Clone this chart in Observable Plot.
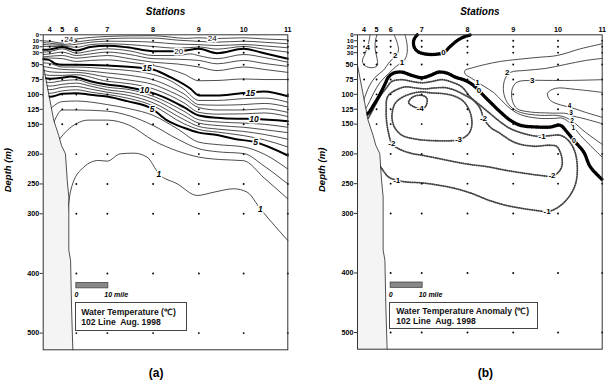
<!DOCTYPE html>
<html><head><meta charset="utf-8">
<script src="https://cdn.jsdelivr.net/npm/d3@7"></script>
<script src="https://cdn.jsdelivr.net/npm/@observablehq/plot@0.6"></script>
<style>
html,body{margin:0;padding:0;background:#fff;}
body{width:608px;height:385px;overflow:hidden;position:relative;font-family:"Liberation Sans",Arial,sans-serif;}
.panel{position:absolute;top:0;}
.legend{position:absolute;box-sizing:border-box;border:1px solid #444;background:#fff;font-weight:bold;font-size:8.6px;line-height:10px;color:#111;padding:4.5px 0 0 5px;white-space:nowrap;}
</style></head><body>
<div id="pa" class="panel" style="left:0px"></div>
<div id="pb" class="panel" style="left:308px"></div>
<div class="legend" style="left:75.3px;top:301.7px;width:111.4px;height:29px;">Water Temperature (℃)<br>102 Line&nbsp; Aug. 1998</div>
<div class="legend" style="left:389.3px;top:301.7px;width:149px;height:27.5px;padding-left:6px;line-height:9.5px;">Water Temperature Anomaly (℃)<br>102 Line&nbsp; Aug. 1998</div>
<script>
// ---------- data ----------
const stations = [4,5,6,7,8,9,10,11];
const stationMiles = [0,3.9,8.3,18,32.3,46.6,60.6,74.4];
const depthTicksTop = [0,10,20,30];
const depthTicks = [50,75,100,125,150,200,250,300,400,500];
const sampleDepths = [10,20,30,50,75,100,125,150,200,250,300,400,500];
const deepestSample = [75,150,500,500,500,500,500,500];
const seafloor = [[-2.06,51],[1.25,143.6],[2.8,168.8],[3.65,185.5],[4.9,199.5],[5.45,244.2],[5.95,272.2],[5.95,361.5],[6.5,378.3],[6.8,456.5],[7.2,528]];

// (a) water temperature isotherms: [miles, depth]
const tempIsotherms = [
 {v:24,pts:[[-2.06,10],[0,11],[3.9,14],[6,9],[8.3,7],[12.7,4.5],[18,2.8],[25,1.8],[32.3,1.5],[38,4],[42.5,6],[46.6,5],[52.3,6.2],[60.6,5],[67,7],[74.4,8.4]]},
 {v:23,pts:[[-2.06,13],[0,14],[3.9,16],[8.3,12],[12.7,9],[18,6.7],[25,5.5],[32.3,5.5],[40,9],[46.6,11],[52.3,12.3],[60.6,10.7],[67,12.5],[74.4,15]]},
 {v:22,pts:[[-2.06,16],[0,17],[3.9,17.5],[8.3,16],[12.7,12.5],[18,10.7],[25,11],[32.3,12.4],[40,15.5],[46.6,16.5],[52.3,18],[60.6,16.3],[67,18.5],[74.4,21.8]]},
 {v:21,pts:[[-2.06,19],[0,20],[3.9,19],[8.3,21],[12.7,16.5],[18,15],[25,16.5],[32.3,19.6],[40,22.5],[46.6,20.5],[52.3,24],[60.6,19.6],[67,24],[74.4,29]]},
 {v:20,pts:[[-2.06,25],[0,24.6],[3.9,20.5],[8.3,26.3],[12.7,20.5],[18,18.5],[24.2,21],[32.3,27.4],[40.3,27.4],[46.6,23.5],[52.3,30.8],[60.6,23.5],[65.8,29.1],[74.4,40.3]]},
 {v:19,pts:[[-2.06,29],[0,28],[3.9,23.5],[8.3,30.8],[12.7,27],[18,23.5],[25,27],[32.3,34.7],[40,34.7],[44,32],[46.6,35],[52.3,40],[60.6,33],[67,38],[74.4,46]]},
 {v:18,pts:[[-2.06,33],[0,32],[3.9,29],[8.3,34.7],[12.7,32],[18,29],[25,33],[32.3,40],[40,41],[46.6,43],[52.3,48.6],[60.6,43],[67,48],[74.4,53]]},
 {v:17,pts:[[-2.06,37],[0,36],[3.9,34.7],[8.3,39.2],[12.7,37],[18,34.7],[25,40],[32.3,46],[40,49],[46.6,54],[52.3,60],[60.6,54],[67,58],[74.4,63]]},
 {v:16,pts:[[-2.06,39],[0,39],[3.9,40],[8.3,44.7],[12.7,43],[18,42],[25,46],[32.3,51.5],[37.7,58],[42,66],[46.6,77],[52.3,76.6],[60.6,74],[67,75],[74.4,75]]},
 {v:15,pts:[[-2.06,41],[-0.3,42],[1.8,48.6],[3.9,50.3],[8.3,50.3],[17.9,51.5],[28.3,55.3],[32.5,58.7],[37.7,71.1],[44,90.5],[46.6,101.7],[52.3,101.7],[58.6,98.9],[66.9,95],[74.4,102.9]]},
 {v:14,pts:[[-2.06,47],[0,48],[3.9,54],[8.3,54],[18,57],[25,60],[32.3,66.5],[37.7,77],[41.9,91],[46.6,110],[52.3,110],[60.6,107],[67,106],[74.4,113]]},
 {v:13,pts:[[-2.06,53],[0,55],[3.9,58],[8.3,59],[18,64],[25,68],[32.3,75.4],[37.7,87],[41.9,99],[46.6,117],[52.3,118],[60.6,117],[67,115],[74.4,121]]},
 {v:12,pts:[[-2.06,59],[0,62],[3.9,63],[8.3,63],[18,71],[25,76],[32.3,83.3],[37.7,95],[41.9,106],[46.6,122],[52.3,126],[60.6,126],[67,124],[74.4,130]]},
 {v:11,pts:[[-2.06,66],[0,68],[3.9,68],[8.3,67],[18,78],[25,82],[32.3,90.5],[37.7,102],[41.9,114],[46.6,130],[52.3,133],[60.6,132.5],[67,131],[74.4,137]]},
 {v:10,pts:[[-2.06,72],[0,73.8],[3.9,72],[6.5,69.9],[8.3,71],[12.7,77.8],[17.9,83.3],[23.1,86.7],[29.4,93.4],[32.3,97.8],[35.6,104.5],[41.9,121.3],[46.6,135.3],[52.3,139.2],[58.6,140.8],[63.8,141],[74.4,144.8]]},
 {v:9,pts:[[-2.06,78],[0,80],[3.9,77],[8.3,75.4],[12.7,82],[18,87.8],[25,92],[32.3,103],[41.9,128],[46.6,142.5],[52.3,146],[60.6,148],[67,150],[74.4,155]]},
 {v:8,pts:[[-2.06,84],[0,86],[3.9,83],[8.3,81],[12.7,86],[18,92.2],[25,97],[32.3,108],[41.9,135],[46.6,148],[52.3,152],[60.6,155],[67,159],[74.4,164]]},
 {v:7,pts:[[-2.06,90],[0,92],[3.9,88],[8.3,86.7],[12.7,91],[18,96.2],[25,102],[32.3,114],[41.9,142],[46.6,153.7],[52.3,158],[60.6,162],[67,167],[74.4,175]]},
 {v:6,pts:[[-2.06,96],[0,98],[3.9,94],[8.3,92.2],[12.7,96],[18,100],[25,107],[32.3,119],[41.9,149],[46.6,158.7],[52.3,163],[60.6,169],[67,176],[74.4,188]]},
 {v:5,pts:[[-2.06,102],[0,104],[3.9,99],[8.3,97.8],[12.7,100.6],[17.9,103.4],[24.2,111.2],[32,124],[36.7,143.6],[41.9,155.9],[46.6,164],[52.3,168],[57.5,174.3],[64.3,180],[74.4,202.3]]},
 {v:4,pts:[[0,125],[3.9,112],[8.3,111],[18,117],[25,124],[32.3,135],[40,158],[46.6,180],[52.3,184],[60.6,188],[67,200],[74.4,225]]},
 {v:3,pts:[[1,150],[3.9,126],[8.3,126],[18,128],[25,136],[32.3,152],[40,175],[46.6,191],[52.3,196],[60.6,199],[67,220],[74.4,250]]},
 {v:2,pts:[[3,175],[5.5,160],[8.3,149],[12,143],[18,143],[25,152],[32.3,177],[40,195],[46.6,205],[53,209],[60.6,211],[67,240],[74.4,275]]},
 {v:1,pts:[[5.5,300],[6.5,262],[9.6,227],[15.3,210.6],[17.9,211.8],[22.1,199.5],[26.3,198.4],[30.4,205],[34.1,233],[39.8,249.7],[46.1,269.3],[51.3,263.8],[57.5,258.1],[61.7,263.8],[65.8,291.6],[74.4,344.8]]}
];
const tempBold = [20,15,10,5];
const tempLabels = [
 {t:"24",x:5.9,y:8,b:false},{t:"24",x:50.8,y:6.7,b:false},{t:"20",x:40.3,y:27.4,b:false},
 {t:"15",x:30.4,y:56.5,b:true},{t:"15",x:62.7,y:97.5,b:true},
 {t:"10",x:29.6,y:92.5,b:true},{t:"10",x:63.8,y:141,b:true},
 {t:"5",x:32,y:124,b:true},{t:"5",x:64.3,y:180,b:true},
 {t:"1",x:34.1,y:233,b:true},{t:"1",x:65.8,y:291.6,b:true}
];

// (b) temperature anomaly contours: [miles, depth]
const anomPositive = [
 {v:"4",pts:[[1.88,0],[1.35,15],[0.31,31.8],[-0.53,44.2],[0.31,52],[2.41,55.3],[4.07,52],[4.07,40.2],[3.44,23.5],[3.66,6.7],[4.07,0]]},
 {v:"2",pts:[[9.4,0],[10.5,16.3],[10.7,27.5],[9.7,36.4],[8.1,44.7],[6.0,59.8],[3.4,71.6],[1.56,86.7],[0.31,103.4],[-0.63,116.8]]},
 {v:"1",pts:[[12.8,0],[13.4,15],[13.4,31.8],[12.5,43.1],[10,53.1],[7.6,65.4],[5,79.9],[3.1,96.7],[1.9,110.1],[0.6,123.5]]},
 {v:"1r",pts:[[74.4,15.1],[67.6,23.5],[60.4,34.7],[54.1,38],[47.8,41.4],[42.6,44.7],[37.9,49.8],[33.8,55.5],[31.5,60],[31.6,66],[33.6,73],[35.4,79.5],[37.3,86],[40.5,97],[43.1,111],[45.7,124],[48.8,134],[54.1,140],[59.2,140.5],[61.9,140],[64.5,149],[67.6,169],[70.7,186],[74.4,205.6]]},
 {v:"2r",pts:[[74.4,39.7],[69.2,43.1],[62.9,49.8],[56.7,56.5],[50.4,59.8],[45.7,63.2],[44.1,73.3],[43.5,90],[44.1,106.8],[45.7,120.2],[48.8,130.3],[55.1,135.3],[60.1,135.3],[62.9,138.6],[65.1,145.3],[69.2,163.8],[74.4,183.9]]},
 {v:"3r",pts:[[74.4,75.4],[64.5,76.6],[57.2,76.6],[52.5,76.6],[47.8,79.5],[46.3,90.5],[46.3,110.1],[47.8,124],[52,129.7],[58.2,131.4],[63.4,132.4],[64.5,135.3],[68.7,140.8],[74.4,149.2]]},
 {v:"4r",pts:[[74.4,96.7],[66.1,91.7],[59.8,89.9],[57.3,98.4],[58.2,110.1],[61.3,117.7],[64.5,121.9],[69.2,130.3],[74.4,138.6]]}
];
const anomZero = [
 {v:"0a",pts:[[16.6,0],[15.6,8],[15.5,18],[16.3,26],[18,31],[21.5,33],[24.8,30],[27,19],[29,10],[31,4],[33.4,0]]},
 {v:"0b",pts:[[0.5,135],[1.56,130],[2.9,118.5],[4.5,104.6],[6.6,82.1],[7.6,71.1],[9.2,64.4],[11.8,62.7],[14.9,68.2],[18.1,72.1],[20.7,68.2],[23.3,62.7],[25.9,64.4],[28.5,71.1],[31.6,76.6],[34.2,85],[37.3,101.7],[39.4,113],[42.6,129.7],[45.7,143.6],[48.8,152],[54.1,154.9],[58.2,154.9],[61.3,152],[63.4,163.2],[65.5,177.2],[68.6,196.8],[70.7,221.9],[74.4,243]]}
];
const anomNegOpen = [
 {v:"-1",pts:[[1.3,140],[2.3,130],[3.44,118.5],[5.0,103.4],[7.1,88.3],[8.7,78.3],[11.8,75.4],[14.9,78.4],[18.1,80.6],[21.2,78.4],[24.3,75.4],[27.4,79.4],[30.6,87.8],[33.2,104.6],[36.3,118.5],[39.4,132.4],[42.6,146.5],[45.7,157.5],[49.9,165.9],[54.1,170.5],[57.6,169.6],[61.3,168.8],[63.8,177.2],[65.7,193.9],[66.6,219],[66.1,249.7],[64,272.2],[60.8,289],[57.2,297.3],[54.6,295.6],[49.4,291.6],[44.1,286.1],[38.9,277.7],[33.7,266.5],[28.5,258.1],[23.3,252.6],[18.1,248.7],[12.8,247],[10.2,244.2],[7.6,238.7],[5.5,224.6],[4.4,217.4]]}
];
const anomNegClosed = [
 {v:"-2",pts:[[7.6,101.7],[9.7,93.4],[12.8,87.5],[16,89.2],[19.1,90.8],[22.2,89.2],[25.4,88.8],[28.5,93.4],[31.6,101.7],[34.2,110.1],[36.3,124],[37.3,139.1],[39.4,154.9],[42.6,165.9],[45.7,177.2],[48.8,183.9],[53.5,187.2],[57.6,185.5],[60.1,187.2],[61.3,197.3],[61.9,210.7],[61.7,222.4],[60.4,232.5],[58.7,237.5],[54.6,235.8],[49.4,232],[44.1,227.4],[38.9,221.9],[32.6,217.4],[28.5,213.5],[23.3,207.8],[18.1,202.3],[14.9,199.4],[10.7,191.1],[8.7,182.7],[7.6,163.7],[7,143.6],[6.9,123.5],[7,110.1]]},
 {v:"-3",pts:[[8.8,130.2],[9.7,115.1],[11.9,105.1],[15,98.4],[18.1,95.9],[20.7,97.5],[23.8,98.4],[27.5,101.7],[30.7,110.1],[32.6,123.5],[33.6,140.3],[33.5,157],[32.2,168.8],[29.5,176.3],[23.8,178],[16.5,175.5],[11.9,168.8],[9.7,157],[8.8,143.6]]},
 {v:"-4",pts:[[13.9,113.5],[15.3,104.2],[18.1,101.7],[19.6,106.8],[19.4,118.5],[18.1,124.4],[15.6,121]]}
];
const anomLabels = [
 {t:"4",x:1.16,y:20.7,s:8},{t:"2",x:9.7,y:34.7,s:8},{t:"1",x:11.8,y:46,s:8},{t:"0",x:24.8,y:29.2,s:8},
 {t:"1",x:35.4,y:80,s:8},{t:"0",x:35.9,y:93,s:8},{t:"2",x:44.7,y:62.7,s:8},{t:"3",x:52.5,y:76.6,s:8},
 {t:"4",x:64.2,y:119.5,s:6.5},{t:"3",x:64.7,y:132,s:6.5},{t:"2",x:65,y:144.5,s:6.5},{t:"1",x:65.4,y:157,s:6.5},{t:"0",x:65.6,y:177.2,s:7},
 {t:"-1",x:55.6,y:171,s:8},{t:"-2",x:37.3,y:140,s:8},{t:"-3",x:29.5,y:176,s:8},{t:"-4",x:17.5,y:123,s:8},
 {t:"-2",x:8.7,y:182,s:8},{t:"-1",x:10.2,y:244.2,s:8},{t:"-2",x:58.7,y:237,s:8},{t:"-1",x:57.2,y:297,s:8}
];
const scaleBar = {start: 8.3, miles: 10, top: 416, bottom: 425, labelDepth: 436};

// ---------- helpers ----------
const rows = list => list.flatMap(c => c.pts.map(([x, y]) => ({id: String(c.v), x, y})));
const seafloorRows = seafloor.map(([x, y]) => ({x, y}));
const dotRows = stationMiles.flatMap((m, i) => sampleDepths.filter(d => d <= deepestSample[i]).map(d => ({x: m, y: d})));
const stationLabel = new Map(stationMiles.map((m, i) => [m, String(stations[i])]));
const FONT = "Liberation Sans, Arial, sans-serif";
const INK = "#000";
const X0 = -2.06, X1 = 74.4, YMAX = 528;

function commonMarks(extra) {
  return [
    ...extra.lines,
    Plot.areaX(seafloorRows, {x1: X0, x2: "x", y: "y", fill: "#f4f4f4"}),
    Plot.line(seafloorRows, {x: "x", y: "y", stroke: "#222", strokeWidth: 0.8}),
    Plot.dot(dotRows, {x: "x", y: "y", r: 0.95, fill: "#000", stroke: null}),
    ...extra.labels,
    Plot.rect([scaleBar], {x1: d => d.start, x2: d => d.start + d.miles, y1: "top", y2: "bottom", fill: "#888", stroke: "#444", strokeWidth: 0.8}),
    Plot.text([scaleBar], {x: d => d.start, y: "labelDepth", text: () => "0", fontSize: 7, fontWeight: "bold", fontStyle: "italic", fill: INK}),
    Plot.text([scaleBar], {x: d => d.start + d.miles, y: "labelDepth", text: () => "10 mile", textAnchor: "start", dx: -4, fontSize: 7, fontWeight: "bold", fontStyle: "italic", fill: INK}),
    Plot.frame({stroke: "#333", strokeWidth: 1}),
    Plot.axisY(depthTicksTop, {anchor: "left", tickSize: 3, tickPadding: 1, label: null, fontSize: 6, fontWeight: "bold", fill: INK, stroke: "#333"}),
    Plot.axisY(depthTicks, {anchor: "left", tickSize: 3, tickPadding: 1, label: null, fontSize: 7.2, fontWeight: "bold", fill: INK, stroke: "#333"}),
    Plot.axisX(stationMiles, {anchor: "top", tickSize: 0, tickPadding: 2.5, label: null, tickFormat: d => stationLabel.get(d), fontSize: 7.2, fontWeight: "bold", fill: INK}),
    Plot.text(["Stations"], {frameAnchor: "top", dy: -26.5, fontSize: 10, fontWeight: "bold", fontStyle: "italic", fill: INK}),
    Plot.text(["Depth (m)"], {frameAnchor: "left", dx: -35.5, rotate: -90, fontSize: 9.5, fontWeight: "bold", fontStyle: "italic", fill: INK}),
    Plot.text([extra.tag], {frameAnchor: "bottom", dx: extra.tagDx, dy: 27.5, fontSize: 12, fontWeight: "bold", fill: INK})
  ];
}

// ---------- panel (a) ----------
const isoRows = rows(tempIsotherms);
const boldSet = new Set(tempBold.map(String));
const plotA = Plot.plot({
  width: 300, height: 385,
  marginLeft: 42.7, marginRight: 12.7, marginTop: 34.3, marginBottom: 35.7,
  x: {domain: [X0, X1]}, y: {domain: [0, YMAX], reverse: true},
  style: {fontFamily: FONT, background: "transparent", overflow: "visible", color: "#000"},
  marks: commonMarks({
    tag: "(a)", tagDx: -9.3,
    lines: [
      Plot.line(isoRows.filter(d => !boldSet.has(d.id)), {x: "x", y: "y", z: "id", curve: "monotone-x", stroke: "#111", strokeWidth: 0.75}),
      Plot.line(isoRows.filter(d => boldSet.has(d.id)), {x: "x", y: "y", z: "id", curve: "monotone-x", stroke: "#000", strokeWidth: 2})
    ],
    labels: [
      Plot.text(tempLabels.filter(d => !d.b), {x: "x", y: "y", text: "t", fontSize: 8, fill: INK, stroke: "white", strokeWidth: 3, paintOrder: "stroke"}),
      Plot.text(tempLabels.filter(d => d.b), {x: "x", y: "y", text: "t", fontSize: 8.5, fontWeight: "bold", fontStyle: "italic", fill: INK, stroke: "white", strokeWidth: 3, paintOrder: "stroke"})
    ]
  })
});
document.getElementById("pa").append(plotA);

// ---------- panel (b) ----------
const posRows = rows(anomPositive);
const zeroRows = rows(anomZero);
const negOpenRows = rows(anomNegOpen);
const negClosedRows = rows(anomNegClosed);
const plotB = Plot.plot({
  width: 300, height: 385,
  marginLeft: 49, marginRight: 6.3, marginTop: 34.3, marginBottom: 36.3,
  x: {domain: [X0, X1]}, y: {domain: [0, YMAX], reverse: true},
  style: {fontFamily: FONT, background: "transparent", overflow: "visible", color: "#000"},
  marks: commonMarks({
    tag: "(b)", tagDx: 5.6,
    lines: [
      Plot.line(posRows, {x: "x", y: "y", z: "id", curve: "catmull-rom", stroke: "#111", strokeWidth: 0.75}),
      Plot.line(negOpenRows, {x: "x", y: "y", z: "id", curve: "catmull-rom", stroke: "#666", strokeWidth: 0.4}),
      Plot.line(negOpenRows, {x: "x", y: "y", z: "id", curve: "catmull-rom", stroke: "#444", strokeWidth: 1.8, strokeDasharray: "0.5 1.7"}),
      Plot.line(negClosedRows, {x: "x", y: "y", z: "id", curve: "catmull-rom-closed", stroke: "#666", strokeWidth: 0.4}),
      Plot.line(negClosedRows, {x: "x", y: "y", z: "id", curve: "catmull-rom-closed", stroke: "#444", strokeWidth: 1.8, strokeDasharray: "0.5 1.7"}),
      Plot.line(zeroRows, {x: "x", y: "y", z: "id", curve: "catmull-rom", stroke: "#000", strokeWidth: 1.4}),
      Plot.line(zeroRows, {x: "x", y: "y", z: "id", curve: "catmull-rom", stroke: "#000", strokeWidth: 3.4, strokeDasharray: "0.7 1.5"})
    ],
    labels: [
      Plot.text(anomLabels, {x: "x", y: "y", text: "t", fontSize: d => d.s, fontWeight: "bold", fill: INK, stroke: "white", strokeWidth: 2.2, paintOrder: "stroke"})
    ]
  })
});
document.getElementById("pb").append(plotB);
</script>
</body></html>
